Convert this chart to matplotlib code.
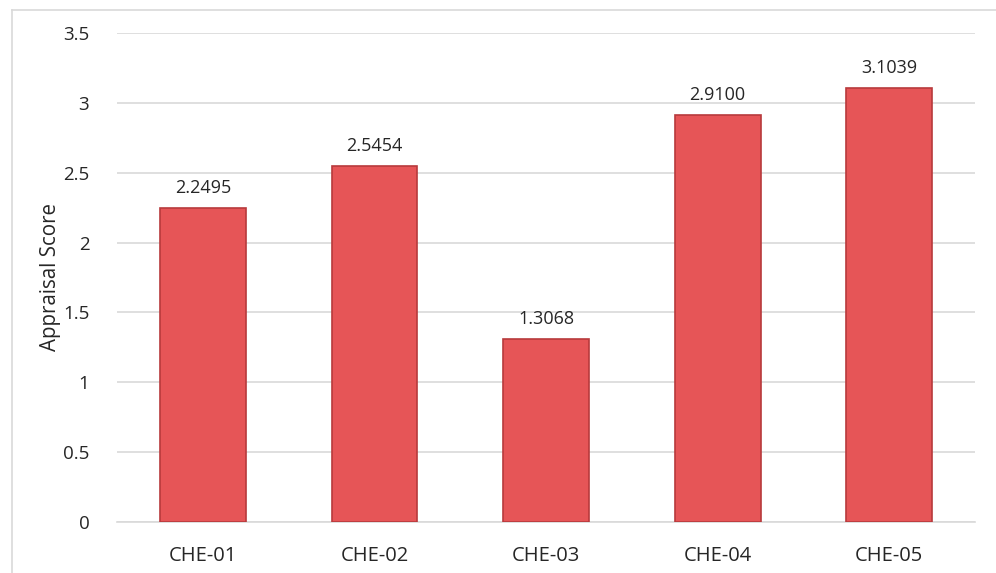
import numpy as np
import matplotlib.pyplot as plt
from matplotlib.lines import Line2D

plt.rcParams["font.family"] = ["Open Sans", "DejaVu Sans"]

categories = ["CHE-01", "CHE-02", "CHE-03", "CHE-04", "CHE-05"]
scores = [2.2495, 2.5454, 1.3068, 2.9100, 3.1039]
score_labels = ["2.2495", "2.5454", "1.3068", "2.9100", "3.1039"]
yticks = [0, 0.5, 1, 1.5, 2, 2.5, 3, 3.5]

fig = plt.figure(figsize=(9.96, 5.73), dpi=100)
ax = fig.add_axes([0.1175, 0.089, 0.8615, 0.8535])

x = np.arange(len(categories))
ax.bar(x, scores, width=0.5, color="#E65557", edgecolor="#B83A3C",
       linewidth=1.2, zorder=3)

for xi, v, lab in zip(x, scores, score_labels):
    ax.text(xi, v + 0.08, lab, ha="center", va="bottom",
            fontsize=13, color="#262626")

ax.set_xlim(-0.5, len(categories) - 0.5)
ax.set_ylim(0, 3.5)
ax.set_yticks(yticks)
ax.set_yticklabels(["0", "0.5", "1", "1.5", "2", "2.5", "3", "3.5"])
ax.set_xticks(x)
ax.set_xticklabels(categories)
ax.yaxis.grid(True, color="#D9D9D9", linewidth=1.2, zorder=0)
ax.set_axisbelow(True)
for s in ["top", "right", "left"]:
    ax.spines[s].set_visible(False)
ax.spines["bottom"].set_color("#D9D9D9")
ax.spines["bottom"].set_linewidth(1.2)
ax.tick_params(axis="x", length=0, labelsize=14.5, colors="#262626", pad=17)
ax.tick_params(axis="y", length=0, labelsize=13.5, colors="#262626", pad=20)
ax.set_ylabel("Appraisal Score", fontsize=14.8, color="#262626", labelpad=1)

# outer chart border (left and top only visible)
fig.lines.append(Line2D([12 / 996, 12 / 996], [0, 1 - 10 / 573],
                        transform=fig.transFigure, color="#D9D9D9", lw=1.2))
fig.lines.append(Line2D([12 / 996, 1], [1 - 10 / 573, 1 - 10 / 573],
                        transform=fig.transFigure, color="#D9D9D9", lw=1.2))

fig.savefig("out.png", dpi=100)
